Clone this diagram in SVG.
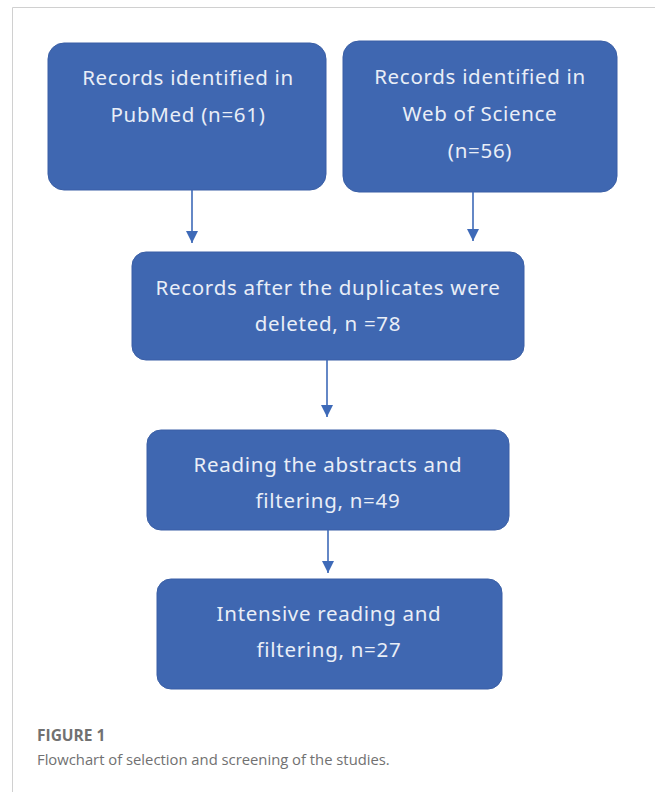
<svg xmlns="http://www.w3.org/2000/svg" width="655" height="792" viewBox="0 0 655 792">
<style>
.box{fill:#3f67b1;stroke:#3a5fa6;stroke-width:1}
.t{font-family:"Noto Sans","Liberation Sans",sans-serif;font-size:20.5px;letter-spacing:0.7px;fill:#e9eef7;text-anchor:middle}
.c{stroke:#3e6ab8;stroke-width:1.6;fill:none}
.cap{font-family:"Open Sans","Liberation Sans",sans-serif;fill:#717171}
</style>
<defs>
<marker id="ah" markerWidth="12" markerHeight="12" refX="10" refY="5" orient="auto" markerUnits="userSpaceOnUse" viewBox="0 0 10 10">
<path d="M0,0 L10,5 L0,10 Z" fill="#3e6ab8"/>
</marker>
</defs>
<rect width="655" height="792" fill="#ffffff"/>
<path d="M12.5,792 V7.5 H655" fill="none" stroke="#d0d0d0" stroke-width="1"/>
<g id="n1">
<rect class="box" x="48" y="43" width="278" height="147" rx="16"/>
<text class="t" x="188" y="85">Records identified in</text>
<text class="t" x="188" y="122">PubMed (n=61)</text>
</g>
<g id="n2">
<rect class="box" x="343" y="41" width="274" height="151" rx="16"/>
<text class="t" x="480" y="84">Records identified in</text>
<text class="t" x="480" y="121">Web of Science</text>
<text class="t" x="480" y="158">(n=56)</text>
</g>
<g id="n3">
<rect class="box" x="132" y="252" width="392" height="108" rx="14"/>
<text class="t" x="328" y="295">Records after the duplicates were</text>
<text class="t" x="328" y="331">deleted, n =78</text>
</g>
<g id="n4">
<rect class="box" x="147" y="430" width="362" height="100" rx="14"/>
<text class="t" x="328" y="472">Reading the abstracts and</text>
<text class="t" x="328" y="508">filtering, n=49</text>
</g>
<g id="n5">
<rect class="box" x="157" y="579" width="345" height="110" rx="14"/>
<text class="t" x="329" y="621">Intensive reading and</text>
<text class="t" x="329" y="657">filtering, n=27</text>
</g>
<g id="connectors">
<path class="c" d="M192,190 V243" marker-end="url(#ah)"/>
<path class="c" d="M473,192 V241" marker-end="url(#ah)"/>
<path class="c" d="M327,360 V417" marker-end="url(#ah)"/>
<path class="c" d="M328,530 V573" marker-end="url(#ah)"/>
</g>
<text class="cap" x="37" y="741" font-size="15.5" font-weight="bold">FIGURE 1</text>
<text class="cap" x="37" y="765" font-size="14.8">Flowchart of selection and screening of the studies.</text>
</svg>
